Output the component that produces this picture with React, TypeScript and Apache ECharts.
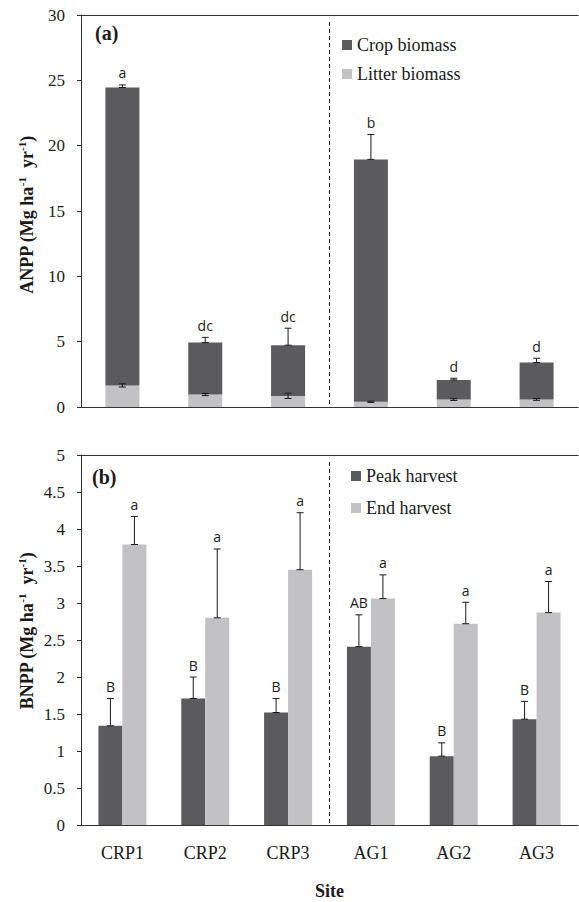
import React, { useEffect, useRef } from 'react';
import * as echarts from 'echarts';

const sites = ['CRP1', 'CRP2', 'CRP3', 'AG1', 'AG2', 'AG3'];

// Panel (a): ANPP
const cropBiomass = [22.8, 3.98, 3.88, 18.55, 1.5, 2.82];
const litterBiomass = [1.65, 0.95, 0.85, 0.4, 0.57, 0.58];
const cropErr = [0.2, 0.4, 1.3, 1.9, 0.13, 0.33];
const litterErr = [0.12, 0.08, 0.2, 0.05, 0.07, 0.07];
const anppLetters = ['a', 'dc', 'dc', 'b', 'd', 'd'];

// Panel (b): BNPP
const peakHarvest = [1.34, 1.71, 1.52, 2.41, 0.93, 1.43];
const peakErr = [0.37, 0.29, 0.19, 0.43, 0.18, 0.24];
const endHarvest = [3.79, 2.8, 3.45, 3.06, 2.72, 2.87];
const endErr = [0.38, 0.93, 0.77, 0.32, 0.29, 0.42];
const peakLetters = ['B', 'B', 'B', 'AB', 'B', 'B'];
const endLetters = ['a', 'a', 'a', 'a', 'a', 'a'];

const anppAxis = { min: 0, max: 30, interval: 5 };
const bnppAxis = { min: 0, max: 5, interval: 0.5 };

const DARK = '#5b5b5d';
const LIGHT = '#c2c2c4';
const INK = '#1a1a1a';
const SERIF = 'Liberation Serif';
const SANS = 'Open Sans';

function errRenderer(offset: number, symmetric: boolean, letters: string[] | null) {
  return (params: any, api: any) => {
    const i = api.value(0);
    const v = api.value(1);
    const e = api.value(2);
    const lo = api.coord([i, symmetric ? v - e : v]);
    const hi = api.coord([i, v + e]);
    const x = lo[0] + offset;
    const cap = 3.5;
    const st = { stroke: INK, lineWidth: 1 };
    const children: any[] = [
      { type: 'line', shape: { x1: x, y1: lo[1], x2: x, y2: hi[1] }, style: st },
      { type: 'line', shape: { x1: x - cap, y1: hi[1], x2: x + cap, y2: hi[1] }, style: st },
      { type: 'line', shape: { x1: x - cap, y1: lo[1], x2: x + cap, y2: lo[1] }, style: st },
    ];
    if (letters) {
      children.push({
        type: 'text',
        x,
        y: hi[1] - 5,
        style: {
          text: letters[params.dataIndex],
          align: 'center',
          verticalAlign: 'bottom',
          fontSize: 14,
          fontFamily: SANS,
          fill: INK,
        },
      });
    }
    return { type: 'group', children };
  };
}

function dividerRenderer(params: any, api: any) {
  const c = api.coord([2, 0]);
  const s = api.size([1, 0]);
  const x = c[0] + s[0] / 2;
  const cs = params.coordSys;
  return {
    type: 'line',
    silent: true,
    shape: { x1: x, y1: cs.y + 7, x2: x, y2: cs.y + cs.height },
    style: { stroke: INK, lineWidth: 1, lineDash: [4, 3] },
  };
}

const titleRich = {
  b: { fontFamily: SERIF, fontWeight: 'bold', fontSize: 18, lineHeight: 22, fill: INK },
  s: { fontFamily: SERIF, fontWeight: 'bold', fontSize: 11, lineHeight: 11, verticalAlign: 'top', fill: INK },
};

function yTitle(label: string, x: number, y: number) {
  return {
    type: 'text',
    x,
    y,
    rotation: Math.PI / 2,
    style: {
      text: `{b|${label} (Mg ha}{s|-1}{b|  yr}{s|-1}{b|)}`,
      rich: titleRich,
      align: 'center',
      verticalAlign: 'middle',
    },
  };
}

function yAxisCfg(grid: number, range: any) {
  return {
    type: 'value',
    gridIndex: grid,
    ...range,
    splitLine: { show: false },
    axisLine: { show: true, lineStyle: { color: '#333', width: 1 } },
    axisTick: { show: true, length: 4, lineStyle: { color: '#333' } },
    axisLabel: { fontFamily: SERIF, fontSize: 17, color: INK, margin: 16 },
  };
}

function xAxisCfg(grid: number, position: string, labels: boolean) {
  return {
    type: 'category',
    gridIndex: grid,
    position,
    data: sites,
    axisLine: { show: true, onZero: false, lineStyle: { color: '#333', width: 1 } },
    axisTick: { show: false },
    axisLabel: { show: labels, fontFamily: SERIF, fontSize: 18, color: INK, margin: 19 },
    splitLine: { show: false },
  };
}

export default function App() {
  const ref = useRef<HTMLDivElement>(null);
  useEffect(() => {
    if (!ref.current) return;
    const chart = echarts.init(ref.current, undefined, { renderer: 'svg' });
    const totals = cropBiomass.map((c, i) => c + litterBiomass[i]);
    const legendText = { fontFamily: SERIF, fontSize: 18, color: INK };
    chart.setOption({
      animation: false,
      backgroundColor: '#ffffff',
      grid: [
        { left: 81, top: 15, width: 497, height: 392 },
        { left: 81, top: 455, width: 497, height: 370 },
      ],
      legend: [
        {
          data: ['Crop biomass', 'Litter biomass'],
          orient: 'vertical', left: 342, top: 36, padding: 0,
          itemWidth: 10, itemHeight: 10, itemGap: 11, icon: 'rect',
          textStyle: legendText, selectedMode: false,
        },
        {
          data: ['Peak harvest', 'End harvest'],
          orient: 'vertical', left: 351, top: 467, padding: 0,
          itemWidth: 10, itemHeight: 10, itemGap: 14, icon: 'rect',
          textStyle: legendText, selectedMode: false,
        },
      ],
      xAxis: [
        xAxisCfg(0, 'bottom', false),
        xAxisCfg(0, 'top', false),
        {
          ...xAxisCfg(1, 'bottom', true),
          name: 'Site',
          nameLocation: 'middle',
          nameGap: 57,
          nameTextStyle: { fontFamily: SERIF, fontWeight: 'bold', fontSize: 18, color: INK },
        },
        xAxisCfg(1, 'top', false),
      ],
      yAxis: [yAxisCfg(0, anppAxis), yAxisCfg(1, bnppAxis)],
      graphic: [
        { type: 'text', left: 95, top: 23, style: { text: '(a)', font: `bold 20px ${SERIF}`, fill: INK } },
        { type: 'text', left: 92, top: 467, style: { text: '(b)', font: `bold 20px ${SERIF}`, fill: INK } },
        yTitle('ANPP', 27, 215),
        yTitle('BNPP', 27, 631),
      ],
      series: [
        {
          name: 'Litter biomass', type: 'bar', stack: 'anpp', xAxisIndex: 0, yAxisIndex: 0,
          barWidth: 34, data: litterBiomass, itemStyle: { color: LIGHT },
        },
        {
          name: 'Crop biomass', type: 'bar', stack: 'anpp', xAxisIndex: 0, yAxisIndex: 0,
          barWidth: 34, data: cropBiomass, itemStyle: { color: DARK },
        },
        {
          name: 'litterErr', type: 'custom', xAxisIndex: 0, yAxisIndex: 0, z: 5,
          renderItem: errRenderer(0, true, null),
          data: litterBiomass.map((v, i) => [i, v, litterErr[i]]),
        },
        {
          name: 'cropErr', type: 'custom', xAxisIndex: 0, yAxisIndex: 0, z: 5,
          renderItem: errRenderer(0, false, anppLetters),
          data: totals.map((v, i) => [i, v, cropErr[i]]),
        },
        {
          name: 'divA', type: 'custom', xAxisIndex: 0, yAxisIndex: 0, z: 6,
          renderItem: dividerRenderer, data: [[0, 0]],
        },
        {
          name: 'Peak harvest', type: 'bar', xAxisIndex: 2, yAxisIndex: 1,
          barWidth: 24, barGap: '0%', data: peakHarvest, itemStyle: { color: DARK },
        },
        {
          name: 'End harvest', type: 'bar', xAxisIndex: 2, yAxisIndex: 1,
          barWidth: 24, barGap: '0%', data: endHarvest, itemStyle: { color: LIGHT },
        },
        {
          name: 'peakErr', type: 'custom', xAxisIndex: 2, yAxisIndex: 1, z: 5,
          renderItem: errRenderer(-12, false, peakLetters),
          data: peakHarvest.map((v, i) => [i, v, peakErr[i]]),
        },
        {
          name: 'endErr', type: 'custom', xAxisIndex: 2, yAxisIndex: 1, z: 5,
          renderItem: errRenderer(12, false, endLetters),
          data: endHarvest.map((v, i) => [i, v, endErr[i]]),
        },
        {
          name: 'divB', type: 'custom', xAxisIndex: 2, yAxisIndex: 1, z: 6,
          renderItem: dividerRenderer, data: [[0, 0]],
        },
      ],
    });
    return () => chart.dispose();
  }, []);
  return (
    <div
      ref={ref}
      style={{ position: 'fixed', left: 0, top: 0, width: 579, height: 902, background: '#fff' }}
    />
  );
}
